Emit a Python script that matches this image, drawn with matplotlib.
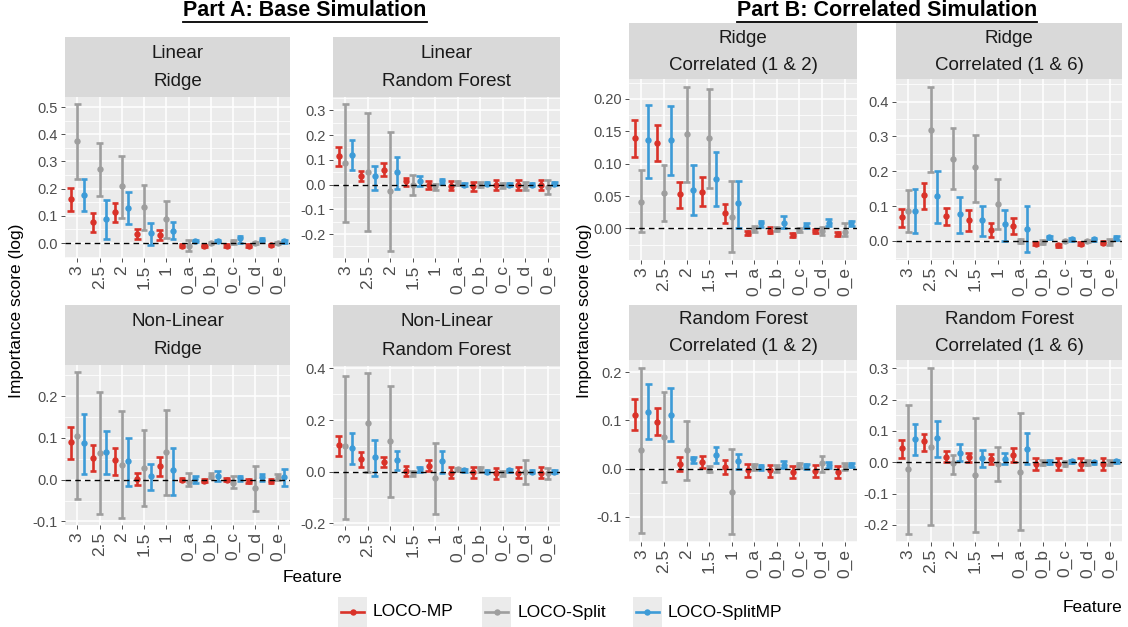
import matplotlib

matplotlib.use("Agg")
import matplotlib.pyplot as plt
from matplotlib.lines import Line2D
from matplotlib.patches import Rectangle
from matplotlib.ticker import FixedLocator, FormatStrFormatter

plt.rcParams["font.family"] = ["Liberation Sans", "DejaVu Sans"]
plt.rcParams["axes.unicode_minus"] = False

W, H = 1128, 627

features = ["3", "2.5", "2", "1.5", "1", "0_a", "0_b", "0_c", "0_d", "0_e"]
methods = ["LOCO-MP", "LOCO-Split", "LOCO-SplitMP"]
colors = ["#D93229", "#9E9E9E", "#3D9BD7"]

# each series: (estimate, lower, upper) per feature

# --- Part A: base simulation ---
lin_ridge_mp = ([0.163, 0.079, 0.115, 0.033, 0.029, -0.010, -0.012, -0.010, -0.010, -0.006],
                [0.118, 0.042, 0.079, 0.015, 0.012, -0.015, -0.016, -0.015, -0.015, -0.010],
                [0.203, 0.112, 0.148, 0.053, 0.049, -0.005, -0.007, -0.005, -0.005, -0.002])
lin_ridge_split = ([0.375, 0.272, 0.209, 0.132, 0.087, -0.010, 0.000, 0.004, 0.000, 0.000],
                   [0.237, 0.172, 0.093, 0.049, 0.017, -0.028, -0.005, -0.002, -0.005, -0.005],
                   [0.510, 0.369, 0.320, 0.215, 0.153, 0.012, 0.005, 0.010, 0.005, 0.005])
lin_ridge_splitmp = ([0.178, 0.087, 0.130, 0.036, 0.045, 0.008, 0.008, 0.017, 0.012, 0.007],
                     [0.118, 0.015, 0.069, -0.007, 0.015, 0.003, 0.003, 0.002, 0.007, 0.001],
                     [0.237, 0.160, 0.187, 0.075, 0.078, 0.013, 0.013, 0.027, 0.017, 0.013])

lin_rf_mp = ([0.116, 0.033, 0.060, 0.013, 0.000, -0.004, -0.007, 0.000, 0.000, 0.000],
             [0.076, 0.013, 0.033, -0.004, -0.017, -0.023, -0.027, -0.020, -0.020, -0.020],
             [0.153, 0.053, 0.087, 0.027, 0.013, 0.013, 0.011, 0.017, 0.017, 0.017])
lin_rf_split = ([0.087, 0.049, -0.027, 0.000, -0.007, 0.007, 0.000, -0.003, -0.007, -0.010],
                [-0.153, -0.187, -0.267, -0.044, -0.020, 0.000, -0.010, -0.013, -0.023, -0.040],
                [0.324, 0.287, 0.213, 0.040, 0.004, 0.014, 0.010, 0.007, 0.009, 0.017])
lin_rf_splitmp = ([0.120, 0.033, 0.049, 0.013, 0.013, 0.000, 0.004, 0.000, 0.000, 0.004],
                  [0.060, -0.020, -0.017, -0.007, 0.004, -0.005, -0.001, -0.005, -0.005, -0.001],
                  [0.180, 0.076, 0.113, 0.033, 0.022, 0.005, 0.009, 0.005, 0.005, 0.009])

nl_ridge_mp = ([0.089, 0.051, 0.046, 0.002, 0.032, 0.000, -0.002, 0.000, -0.003, -0.003],
               [0.050, 0.020, 0.012, -0.012, 0.008, -0.004, -0.006, -0.004, -0.007, -0.007],
               [0.126, 0.083, 0.075, 0.016, 0.055, 0.004, 0.002, 0.004, 0.001, 0.001])
nl_ridge_split = ([0.105, 0.063, 0.036, 0.028, 0.066, -0.006, 0.010, -0.008, -0.020, 0.006],
                  [-0.047, -0.083, -0.091, -0.063, -0.037, -0.016, 0.004, -0.019, -0.075, -0.001],
                  [0.257, 0.210, 0.164, 0.118, 0.167, 0.017, 0.017, 0.010, 0.032, 0.013])
nl_ridge_splitmp = ([0.087, 0.067, 0.044, 0.010, 0.022, 0.002, 0.008, 0.004, 0.006, 0.006],
                    [0.014, 0.014, -0.016, -0.025, -0.036, -0.008, -0.004, -0.002, -0.004, -0.016],
                    [0.158, 0.117, 0.099, 0.038, 0.076, 0.010, 0.020, 0.010, 0.014, 0.026])

nl_rf_mp = ([0.104, 0.050, 0.037, 0.003, 0.024, -0.004, -0.001, -0.006, -0.004, -0.004],
            [0.062, 0.018, 0.018, -0.017, 0.003, -0.023, -0.023, -0.027, -0.023, -0.023],
            [0.140, 0.075, 0.056, 0.022, 0.044, 0.018, 0.019, 0.015, 0.018, 0.018])
nl_rf_split = ([0.098, 0.187, 0.119, -0.006, -0.023, 0.009, 0.009, -0.006, 0.000, -0.004],
               [-0.182, 0.000, -0.097, -0.017, -0.163, 0.003, 0.000, -0.017, -0.048, -0.029],
               [0.371, 0.381, 0.333, 0.003, 0.113, 0.015, 0.018, 0.003, 0.047, 0.015])
nl_rf_splitmp = ([0.091, 0.056, 0.044, 0.009, 0.041, 0.005, 0.000, 0.005, 0.000, 0.000],
                 [0.028, -0.017, 0.005, 0.000, -0.004, -0.002, -0.006, -0.002, -0.006, -0.006],
                 [0.151, 0.123, 0.079, 0.018, 0.079, 0.012, 0.006, 0.012, 0.006, 0.006])

# --- Part B: correlated simulation ---
ridge_c12_mp = ([0.139, 0.132, 0.053, 0.057, 0.024, -0.007, -0.004, -0.010, -0.004, -0.008],
                [0.110, 0.104, 0.031, 0.035, 0.008, -0.010, -0.007, -0.013, -0.007, -0.011],
                [0.168, 0.160, 0.072, 0.079, 0.038, -0.004, 0.002, -0.007, -0.001, -0.005])
ridge_c12_split = ([0.041, 0.055, 0.146, 0.139, 0.018, -0.001, -0.001, -0.002, -0.004, -0.005],
                   [-0.005, 0.012, 0.072, 0.063, -0.036, -0.006, -0.004, -0.005, -0.010, -0.012],
                   [0.090, 0.098, 0.218, 0.216, 0.073, 0.004, 0.002, 0.001, 0.002, 0.008])
ridge_c12_splitmp = ([0.136, 0.136, 0.059, 0.076, 0.039, 0.008, 0.009, 0.004, 0.009, 0.008],
                     [0.078, 0.082, 0.021, 0.034, 0.000, 0.003, 0.000, 0.000, 0.004, 0.004],
                     [0.191, 0.189, 0.098, 0.118, 0.073, 0.012, 0.019, 0.009, 0.014, 0.012])

ridge_c16_mp = ([0.069, 0.131, 0.073, 0.059, 0.031, 0.043, -0.008, -0.012, -0.008, -0.005],
                [0.040, 0.093, 0.045, 0.029, 0.012, 0.019, -0.012, -0.016, -0.012, -0.009],
                [0.093, 0.167, 0.095, 0.088, 0.052, 0.065, -0.004, -0.008, -0.004, -0.001])
ridge_c16_split = ([0.086, 0.319, 0.236, 0.212, 0.107, 0.000, -0.003, 0.000, 0.000, -0.003],
                   [0.026, 0.197, 0.148, 0.112, 0.035, -0.007, -0.008, -0.004, -0.004, -0.011],
                   [0.145, 0.441, 0.324, 0.305, 0.178, 0.007, 0.002, 0.004, 0.004, 0.005])
ridge_c16_splitmp = ([0.086, 0.129, 0.076, 0.059, 0.048, 0.035, 0.010, 0.005, 0.005, 0.008],
                     [0.022, 0.052, 0.024, 0.014, 0.000, -0.031, 0.005, 0.001, 0.001, 0.003],
                     [0.150, 0.200, 0.127, 0.100, 0.088, 0.100, 0.015, 0.009, 0.009, 0.013])

rf_c12_mp = ([0.112, 0.097, 0.010, 0.014, 0.003, -0.003, -0.003, -0.007, -0.004, -0.007],
             [0.080, 0.069, -0.004, 0.001, -0.011, -0.018, -0.018, -0.020, -0.018, -0.020],
             [0.144, 0.125, 0.024, 0.027, 0.017, 0.010, 0.008, 0.006, 0.008, 0.006])
rf_c12_split = ([0.038, 0.065, 0.038, -0.002, -0.049, 0.005, 0.001, 0.007, 0.012, 0.005],
                [-0.133, -0.028, -0.024, -0.007, -0.135, -0.003, -0.006, 0.001, -0.006, -0.003],
                [0.208, 0.158, 0.099, 0.006, 0.040, 0.010, 0.008, 0.012, 0.026, 0.012])
rf_c12_splitmp = ([0.118, 0.112, 0.019, 0.029, 0.015, 0.003, 0.008, 0.005, 0.008, 0.008],
                  [0.062, 0.057, 0.012, 0.012, 0.000, -0.002, 0.001, 0.000, 0.001, 0.003],
                  [0.175, 0.168, 0.024, 0.045, 0.031, 0.008, 0.015, 0.010, 0.014, 0.012])

rf_c16_mp = ([0.046, 0.067, 0.017, 0.016, 0.011, 0.024, -0.005, -0.005, -0.005, -0.005],
             [0.014, 0.037, 0.000, 0.000, -0.007, 0.000, -0.025, -0.025, -0.025, -0.025],
             [0.072, 0.090, 0.035, 0.030, 0.027, 0.046, 0.014, 0.014, 0.014, 0.014])
rf_c16_split = ([-0.021, 0.049, -0.002, -0.042, -0.005, -0.031, -0.002, -0.005, -0.002, -0.002],
                [-0.228, -0.200, -0.036, -0.223, -0.060, -0.217, -0.010, -0.012, -0.010, -0.010],
                [0.183, 0.300, 0.022, 0.141, 0.049, 0.157, 0.008, 0.004, 0.007, 0.007])
rf_c16_splitmp = ([0.075, 0.077, 0.030, 0.014, 0.012, 0.042, 0.000, 0.003, 0.000, 0.003],
                  [0.024, 0.017, 0.003, -0.016, -0.007, -0.007, -0.006, -0.002, -0.005, -0.002],
                  [0.123, 0.133, 0.058, 0.038, 0.030, 0.093, 0.006, 0.008, 0.005, 0.008])

# strip labels, y ticks, tick format, plot box (px: left, top, right, bottom), strip top
panels = [
    (("Linear", "Ridge"), (lin_ridge_mp, lin_ridge_split, lin_ridge_splitmp),
     [0.0, 0.1, 0.2, 0.3, 0.4, 0.5], "%.1f", (65, 97, 290, 258), 37),
    (("Linear", "Random Forest"), (lin_rf_mp, lin_rf_split, lin_rf_splitmp),
     [-0.2, -0.1, 0.0, 0.1, 0.2, 0.3], "%.1f", (333, 97, 560, 258), 37),
    (("Non-Linear", "Ridge"), (nl_ridge_mp, nl_ridge_split, nl_ridge_splitmp),
     [-0.1, 0.0, 0.1, 0.2], "%.1f", (65, 365, 290, 525), 305),
    (("Non-Linear", "Random Forest"), (nl_rf_mp, nl_rf_split, nl_rf_splitmp),
     [-0.2, 0.0, 0.2, 0.4], "%.1f", (333, 366, 560, 526), 305),
    (("Ridge", "Correlated (1 & 2)"), (ridge_c12_mp, ridge_c12_split, ridge_c12_splitmp),
     [0.0, 0.05, 0.10, 0.15, 0.20], "%.2f", (629, 79, 857, 260), 23),
    (("Ridge", "Correlated (1 & 6)"), (ridge_c16_mp, ridge_c16_split, ridge_c16_splitmp),
     [0.0, 0.1, 0.2, 0.3, 0.4], "%.1f", (896, 79, 1122, 260), 23),
    (("Random Forest", "Correlated (1 & 2)"), (rf_c12_mp, rf_c12_split, rf_c12_splitmp),
     [-0.1, 0.0, 0.1, 0.2], "%.1f", (629, 360, 857, 542), 305),
    (("Random Forest", "Correlated (1 & 6)"), (rf_c16_mp, rf_c16_split, rf_c16_splitmp),
     [-0.2, -0.1, 0.0, 0.1, 0.2, 0.3], "%.1f", (896, 360, 1122, 542), 305),
]

PANEL_BG = "#EBEBEB"
STRIP_BG = "#D9D9D9"
TICK_TXT = "#4D4D4D"
DODGE = [-0.3, 0.0, 0.3]
CAP = 0.15


def px_box(x0, y0, x1, y1):
    return [x0 / W, 1 - y1 / H, (x1 - x0) / W, (y1 - y0) / H]


fig = plt.figure(figsize=(W / 100, H / 100), dpi=100)

for strip, series, yticks, fmt, box, strip_top in panels:
    x0, y0, x1, y1 = box
    ax = fig.add_axes(px_box(x0, y0, x1, y1))
    ax.set_facecolor(PANEL_BG)
    for s in ax.spines.values():
        s.set_visible(False)

    xs = list(range(1, len(features) + 1))
    for k, (est, lo, hi) in enumerate(series):
        xp = [x + DODGE[k] for x in xs]
        ax.vlines(xp, lo, hi, color=colors[k], lw=1.9, zorder=3 + k)
        ax.hlines(lo, [x - CAP for x in xp], [x + CAP for x in xp],
                  color=colors[k], lw=1.9, zorder=3 + k)
        ax.hlines(hi, [x - CAP for x in xp], [x + CAP for x in xp],
                  color=colors[k], lw=1.9, zorder=3 + k)
        ax.plot(xp, est, "o", color=colors[k], ms=4.6, mew=0, zorder=3 + k)

    ax.axhline(0, color="black", lw=1.0, ls=(0, (4, 3)), zorder=7)

    # ggplot-style 5% expansion of the data range
    lows = [min(s[1]) for s in series]
    highs = [max(s[2]) for s in series]
    lo_all, hi_all = min(lows), max(highs)
    pad = 0.05 * (hi_all - lo_all)
    ax.set_ylim(lo_all - pad, hi_all + pad)
    ax.set_xlim(0.45, len(features) + 0.55)

    ax.set_yticks(yticks)
    ax.yaxis.set_major_formatter(FormatStrFormatter(fmt))
    step = yticks[1] - yticks[0]
    minors = [yticks[0] - step / 2] + [t + step / 2 for t in yticks]
    ax.yaxis.set_minor_locator(FixedLocator(minors))
    ax.set_xticks(xs)
    ax.set_xticklabels(features, rotation=90, fontsize=12.5, color=TICK_TXT)
    ax.tick_params(axis="y", labelsize=10.5, labelcolor=TICK_TXT, length=3,
                   width=0.6, color="#333333", pad=2)
    ax.tick_params(axis="x", length=3, width=0.6, color="#333333", pad=2)
    ax.tick_params(which="minor", length=0)
    ax.grid(which="major", color="white", lw=1.1, zorder=0)
    ax.grid(which="minor", axis="y", color="white", lw=0.55, zorder=0)
    ax.set_axisbelow(True)

    sax = fig.add_axes(px_box(x0, strip_top, x1, y0))
    sax.set_facecolor(STRIP_BG)
    sax.set_xticks([])
    sax.set_yticks([])
    for s in sax.spines.values():
        s.set_visible(False)
    sax.text(0.5, 0.73, strip[0], ha="center", va="center", fontsize=13.5,
             color="#1A1A1A", transform=sax.transAxes)
    sax.text(0.5, 0.25, strip[1], ha="center", va="center", fontsize=13.5,
             color="#1A1A1A", transform=sax.transAxes)

# axis titles
for x, y in [(17, 311), (584, 311)]:
    fig.text(x / W, 1 - y / H, "Importance score (log)", rotation=90,
             ha="center", va="center", fontsize=12.5)
fig.text(312 / W, 1 - 577 / H, "Feature", ha="center", va="center", fontsize=12.5)
fig.text(1092 / W, 1 - 607 / H, "Feature", ha="center", va="center", fontsize=12.5)

# underlined section headings
titles = [fig.text(305 / W, 1 - 10 / H, "Part A: Base Simulation", ha="center",
                   va="center", fontsize=15.5, fontweight="bold"),
          fig.text(887 / W, 1 - 10 / H, "Part B: Correlated Simulation", ha="center",
                   va="center", fontsize=15.5, fontweight="bold")]
fig.canvas.draw()
for t in titles:
    bb = t.get_window_extent()
    yl = (bb.y0 - 1) / H
    fig.add_artist(Line2D([bb.x0 / W, bb.x1 / W], [yl, yl], color="black", lw=1.3))

# legend, drawn as ggplot-style keys
legend_x = [(338, 373), (482, 518), (633, 668)]
for (kx, tx), name, col in zip(legend_x, methods, colors):
    fig.add_artist(Rectangle((kx / W, 1 - 627 / H), 29 / W, 30 / H,
                             facecolor="#EBEBEB", edgecolor="none"))
    yc = 1 - 612 / H
    fig.add_artist(Line2D([(kx + 3) / W, (kx + 26) / W], [yc, yc], color=col, lw=1.9))
    fig.add_artist(Line2D([(kx + 14.5) / W], [yc], marker="o", ms=4.6, mew=0,
                          color=col, ls="none"))
    fig.text(tx / W, yc, name, ha="left", va="center", fontsize=12.5)

fig.savefig("out.png", dpi=100)
